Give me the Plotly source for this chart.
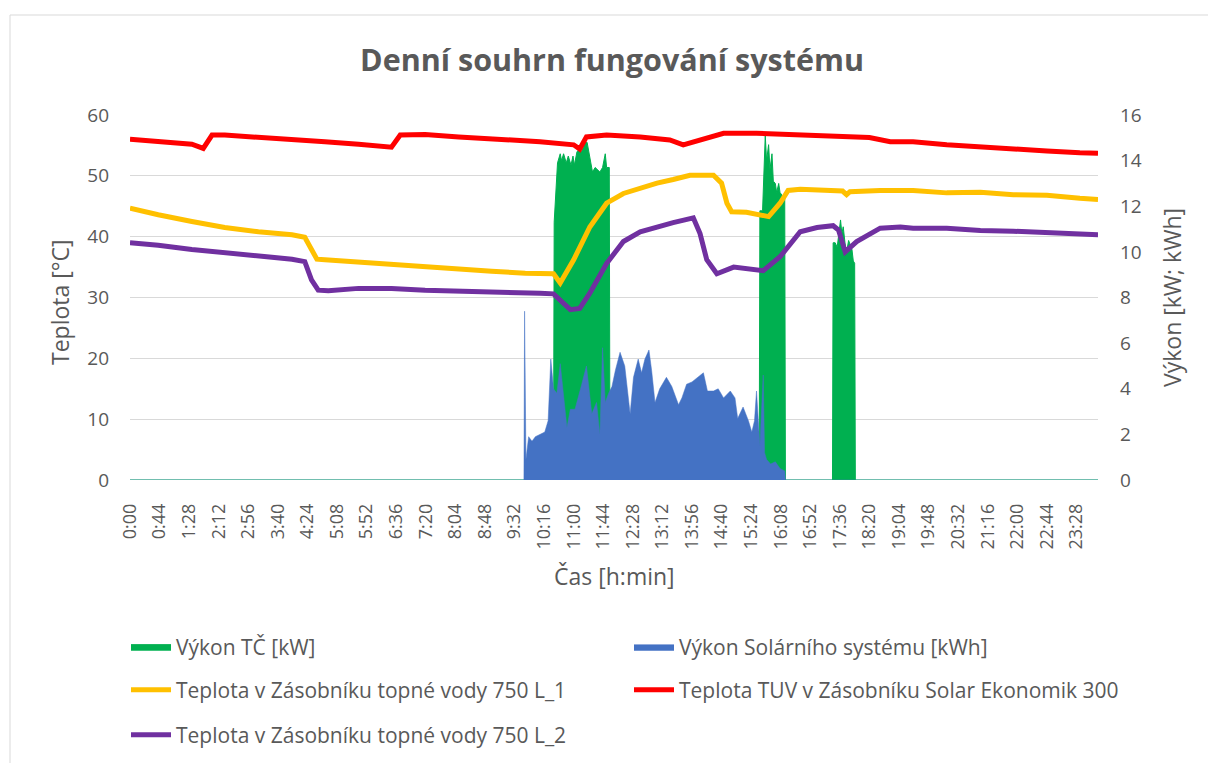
import plotly.graph_objects as go

# ---------------- data (time in minutes from 0:00) ----------------
tc_time = [0, 630, 631, 636, 640, 642, 645, 649, 652, 656, 659, 661, 665, 669, 672, 677, 680, 684,
           688, 692, 695, 699, 703, 707, 709, 713, 714,
           936, 937, 941, 945, 947, 950, 952, 955, 957, 960, 962, 965, 967, 972, 974, 975,
           1045, 1046, 1049, 1052, 1055, 1057, 1059, 1061, 1064, 1066, 1069, 1071, 1074, 1076, 1078, 1079,
           1440]
tc_power = [0, 0, 11.3, 13.9, 14.3, 14.0, 14.3, 13.9, 14.2, 13.8, 14.2, 13.8, 14.4, 14.5, 14.4, 14.8, 14.8, 14.1,
            13.5, 13.7, 13.6, 13.5, 13.7, 14.3, 13.7, 13.7, 0,
            0, 11.8, 11.8, 15.1, 14.0, 14.7, 13.6, 14.3, 13.1, 13.0, 12.6, 13.0, 12.6, 12.4, 12.4, 0,
            0, 10.4, 10.4, 10.2, 11.0, 11.4, 10.8, 11.1, 10.3, 10.0, 10.5, 10.3, 10.1, 9.6, 9.5, 0,
            0]

sol_time = [0, 586, 587, 589, 593, 598, 603, 610, 617, 622, 626, 630, 635, 640, 645, 650, 655, 662, 672,
            679, 687, 694, 699, 703, 707, 712, 717, 722, 729, 736, 744, 749, 756, 761, 766, 772, 776, 781,
            788, 798, 806, 816, 821, 828, 836, 845, 853, 859, 868, 875, 883, 893, 900, 904, 912, 920,
            925, 929, 932, 937, 942, 944, 947, 953, 960, 967, 974, 975, 1440]
sol_power = [0, 0, 7.4, 0.9, 1.9, 1.7, 1.9, 2.0, 2.1, 2.6, 5.3, 4.0, 3.8, 5.1, 3.8, 2.3, 3.1, 3.1, 4.2,
             5.0, 2.9, 3.4, 2.0, 5.8, 3.4, 3.8, 4.1, 4.8, 5.6, 5.0, 2.9, 4.5, 5.3, 4.7, 5.3, 5.7, 4.8, 3.4,
             4.0, 4.5, 4.1, 3.3, 3.6, 4.2, 4.3, 4.5, 4.7, 3.9, 3.9, 4.0, 3.6, 3.9, 3.6, 2.7, 3.2, 2.6,
             2.1, 2.6, 3.9, 1.5, 4.6, 1.2, 0.9, 0.7, 0.8, 0.5, 0.4, 0, 0]

l1_time = [0, 42, 92, 141, 191, 241, 260, 278, 290, 340, 389, 439, 489, 538, 588, 610, 630, 640, 660,
           684, 709, 734, 759, 784, 808, 833, 868, 880, 888, 895, 917, 942, 950, 967, 979, 997, 1046,
           1060, 1066, 1071, 1116, 1165, 1215, 1265, 1314, 1364, 1413, 1440]
l1_temp = [44.7, 43.6, 42.5, 41.5, 40.8, 40.3, 39.9, 36.3, 36.2, 35.8, 35.3, 35.0, 34.6, 34.3, 34.0, 34.0,
           33.9, 32.4, 36.2, 41.6, 45.5, 47.1, 48.0, 48.8, 49.4, 50.1, 50.1, 48.8, 45.5, 44.1, 44.0, 43.4,
           43.3, 45.5, 47.6, 47.8, 47.6, 47.5, 46.9, 47.4, 47.6, 47.6, 47.2, 47.3, 46.9, 46.8, 46.3, 46.1]

tuv_time = [0, 42, 92, 109, 122, 141, 191, 241, 290, 340, 389, 402, 439, 489, 538, 588, 610, 660, 669,
            679, 709, 759, 803, 823, 843, 883, 932, 997, 1050, 1100, 1131, 1165, 1215, 1265, 1314, 1364,
            1413, 1440]
tuv_temp = [56.0, 55.6, 55.2, 54.5, 56.7, 56.7, 56.4, 56.0, 55.6, 55.2, 54.7, 56.7, 56.8, 56.4, 56.1, 55.6,
            55.6, 55.1, 54.4, 56.4, 56.7, 56.4, 55.9, 55.1, 55.7, 57.0, 57.0, 56.8, 56.5, 56.3, 55.6, 55.6,
            55.1, 54.7, 54.4, 54.1, 53.8, 53.7]

l2_time = [0, 42, 92, 141, 191, 241, 260, 270, 280, 295, 340, 389, 439, 489, 538, 588, 610, 630, 640,
           655, 669, 684, 709, 734, 759, 784, 808, 838, 848, 858, 873, 898, 922, 942, 967, 997, 1022,
           1046, 1054, 1064, 1081, 1106, 1116, 1146, 1165, 1215, 1265, 1314, 1364, 1413, 1440]
l2_temp = [39.0, 38.6, 37.9, 37.4, 36.8, 36.3, 35.9, 32.9, 31.2, 31.1, 31.5, 31.5, 31.2, 31.1, 30.9, 30.7,
           30.7, 30.6, 29.6, 28.0, 28.2, 30.7, 35.6, 39.2, 40.8, 41.6, 42.3, 43.1, 40.5, 36.2, 33.9, 35.0,
           34.7, 34.4, 36.7, 40.8, 41.5, 41.8, 41.1, 37.5, 39.2, 40.8, 41.4, 41.6, 41.4, 41.4, 41.0, 40.9,
           40.6, 40.3, 40.3]

tick_minutes = list(range(0, 1409, 44))
tick_labels = [f"{m // 60}:{m % 60:02d}" for m in tick_minutes]

names = ["Výkon TČ [kW]", "Výkon Solárního systému [kWh]",
         "Teplota v Zásobníku topné vody 750 L_1",
         "Teplota TUV v Zásobníku Solar Ekonomik 300",
         "Teplota v Zásobníku topné vody 750 L_2"]

# ---------------- figure ----------------
FONT = "Open Sans"
GREY = "#595959"
fig = go.Figure()

# areas on the primary (right-side) axis so the temperature lines (overlay axis) draw on top
fig.add_trace(go.Scatter(x=tc_time, y=tc_power, name=names[0], yaxis="y", mode="lines",
                         fill="tozeroy", fillcolor="#00B050", line=dict(color="#00B050", width=1),
                         legend="legend"))
fig.add_trace(go.Scatter(x=sol_time, y=sol_power, name=names[1], yaxis="y", mode="lines",
                         fill="tozeroy", fillcolor="#4472C4", line=dict(color="#4472C4", width=0.5),
                         legend="legend"))
fig.add_trace(go.Scatter(x=l1_time, y=l1_temp, name=names[2], yaxis="y2", mode="lines",
                         line=dict(color="#FFC000", width=5), legend="legend2"))
fig.add_trace(go.Scatter(x=tuv_time, y=tuv_temp, name=names[3], yaxis="y2", mode="lines",
                         line=dict(color="#FF0000", width=5), legend="legend2"))
fig.add_trace(go.Scatter(x=l2_time, y=l2_temp, name=names[4], yaxis="y2", mode="lines",
                         line=dict(color="#7030A0", width=5), legend="legend3"))

W, H = 1208, 763
L, R, T, B = 130, 110, 115, 283
pw, ph = W - L - R, H - T - B


def px(xp):
    return (xp - L) / pw


def py(yp):
    return (H - B - yp) / ph


legend_common = dict(orientation="h", font=dict(family=FONT, size=21, color=GREY),
                     entrywidth=448, entrywidthmode="pixels", bgcolor="rgba(0,0,0,0)",
                     xanchor="left", yanchor="middle", itemwidth=40)

fig.update_layout(
    width=W, height=H,
    margin=dict(l=L, r=R, t=T, b=B, autoexpand=False),
    paper_bgcolor="white", plot_bgcolor="white",
    font=dict(family=FONT, color=GREY),
    title=dict(text="<b>Denní souhrn fungování systému</b>", x=px(612), xref="paper", xanchor="center",
               y=1 - 60 / H, yref="container", yanchor="middle",
               font=dict(family=FONT, size=30.5, color=GREY)),
    xaxis=dict(range=[0, 1440], tickmode="array", tickvals=tick_minutes, ticktext=tick_labels,
               tickangle=-90, tickfont=dict(family=FONT, size=18, color=GREY), showgrid=False,
               zeroline=False, showline=False, ticks="", ticklabelstandoff=19),
    yaxis=dict(range=[0, 16], tickvals=list(range(0, 17, 2)), side="right",
               showgrid=False, zeroline=False, showline=False, ticks="",
               tickfont=dict(family=FONT, size=19, color=GREY), ticklabelstandoff=21),
    yaxis2=dict(range=[0, 60], tickvals=[0, 10, 20, 30, 40, 50, 60], overlaying="y", side="left",
                showgrid=True, gridcolor="#D9D9D9", gridwidth=1, zeroline=False, showline=False,
                ticks="", tickfont=dict(family=FONT, size=19, color=GREY), ticklabelstandoff=20),
    legend=dict(x=px(126), y=py(647), **legend_common),
    legend2=dict(x=px(126), y=py(690), **legend_common),
    legend3=dict(x=px(126), y=py(735), **legend_common),
    annotations=[
        dict(text="Teplota [°C]", x=px(60), y=py(302), xref="paper", yref="paper", showarrow=False,
             xanchor="center", yanchor="middle",
             textangle=-90, font=dict(family=FONT, size=23, color=GREY)),
        dict(text="Výkon [kW; kWh]", x=px(1172), y=py(298), xref="paper", yref="paper",
             xanchor="center", yanchor="middle",
             showarrow=False, textangle=-90, font=dict(family=FONT, size=23, color=GREY)),
        dict(text="Čas [h:min]", x=px(614), y=py(576), xref="paper", yref="paper", showarrow=False,
             xanchor="center", yanchor="middle",
             font=dict(family=FONT, size=23, color=GREY)),
    ],
    shapes=[dict(type="rect", xref="paper", yref="paper", x0=px(10), x1=px(1230), y0=py(790),
                 y1=py(15), line=dict(color="#D9D9D9", width=1), fillcolor="rgba(0,0,0,0)",
                 layer="below")],
    showlegend=True,
)

fig.write_html("out.html", config={"displayModeBar": False},
               post_script="document.body.style.margin='0';")
